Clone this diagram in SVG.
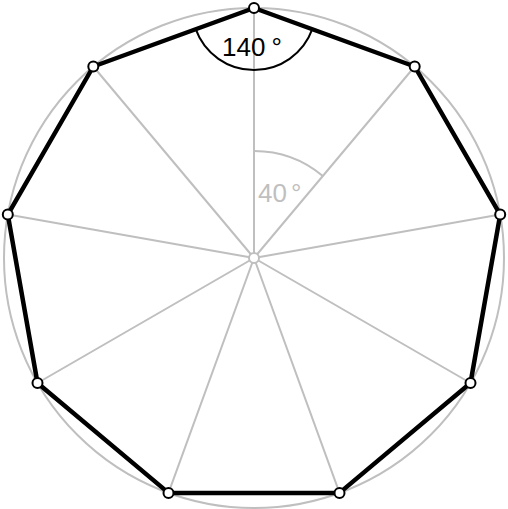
<svg xmlns="http://www.w3.org/2000/svg" width="508" height="509" viewBox="0 0 508 509">
<style>
.g{fill:none;stroke:#bfbfbf;stroke-width:2}
.k{fill:none;stroke:#000;stroke-width:2}
.poly{fill:none;stroke:#000;stroke-width:4.5;stroke-linejoin:round}
.v{fill:#fff;stroke:#000;stroke-width:2}
.t{font-family:"Liberation Sans",Arial,sans-serif;font-size:26px}
</style>
<rect width="508" height="509" fill="#fff"/>
<g id="circumcircle"><circle class="g" cx="254" cy="258" r="250"/></g>
<g id="connectors">
<path class="g" d="M254,258L254,8M254,258L414.7,66.5M254,258L500.2,214.6M254,258L470.5,383M254,258L339.5,492.9M254,258L168.5,492.9M254,258L37.5,383M254,258L7.8,214.6M254,258L93.3,66.5"/>
<path class="g" d="M254,151A107,107 0 0 1 322.8,176"/>
<path class="k" d="M195.7,29.2A62,62 0 0 0 312.3,29.2"/>
<polygon class="poly" points="254,8 414.7,66.5 500.2,214.6 470.5,383 339.5,492.9 168.5,492.9 37.5,383 7.8,214.6 93.3,66.5"/>
</g>
<g id="labels">
<text class="t" x="222" y="56" fill="#000">140<tspan dx="6">°</tspan></text>
<text class="t" x="258" y="202" fill="#bfbfbf">40<tspan dx="4">°</tspan></text>
</g>
<g id="center"><circle cx="254" cy="258" r="5" fill="#fff" stroke="#bfbfbf" stroke-width="2"/></g>
<g id="vertices">
<circle class="v" cx="254" cy="8" r="5"/>
<circle class="v" cx="414.7" cy="66.5" r="5"/>
<circle class="v" cx="500.2" cy="214.6" r="5"/>
<circle class="v" cx="470.5" cy="383" r="5"/>
<circle class="v" cx="339.5" cy="492.9" r="5"/>
<circle class="v" cx="168.5" cy="492.9" r="5"/>
<circle class="v" cx="37.5" cy="383" r="5"/>
<circle class="v" cx="7.8" cy="214.6" r="5"/>
<circle class="v" cx="93.3" cy="66.5" r="5"/>
</g>
</svg>
